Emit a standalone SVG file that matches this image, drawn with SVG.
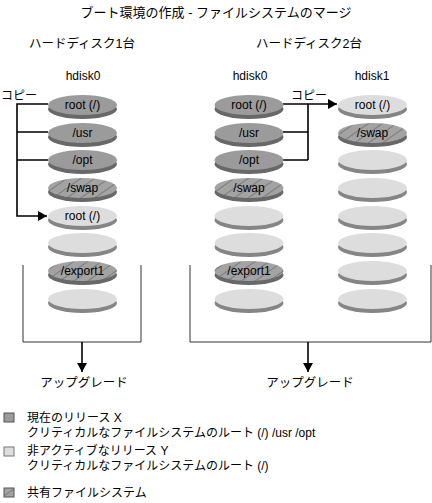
<svg xmlns="http://www.w3.org/2000/svg" width="432" height="503" viewBox="0 0 432 503">
<style>
text{font-family:"Liberation Sans","Noto Sans CJK JP",sans-serif;font-size:12px;fill:#000}
.c{text-anchor:middle}
.side-d{fill:#686868}
.top-d{fill:#9b9b9b}
.side-l{fill:#858585}
.top-l{fill:#dddddd}
.top-h{fill:url(#hatch)}
.conn{fill:none;stroke:#000;stroke-width:1.6}
.box{fill:none;stroke:#333;stroke-width:1}
</style>
<defs>
<pattern id="hatch" patternUnits="userSpaceOnUse" width="8" height="8" patternTransform="rotate(55)">
<rect width="8" height="8" fill="#a3a3a3"/>
<line x1="0" y1="0" x2="0" y2="8" stroke="#5a5a5a" stroke-width="1.1"/>
</pattern>
<marker id="ah" markerWidth="10" markerHeight="10" refX="9" refY="5" orient="auto" markerUnits="userSpaceOnUse">
<path d="M0,0 L9,5 L0,10 Z" fill="#000"/>
</marker>
</defs>

<text class="c" x="216" y="17" style="font-size:13px">ブート環境の作成 - ファイルシステムのマージ</text>
<text class="c" x="82" y="48" style="font-size:12.5px">ハードディスク1台</text>
<text class="c" x="309" y="48" style="font-size:12.5px">ハードディスク2台</text>
<text class="c" x="83" y="80">hdisk0</text>
<text class="c" x="250" y="80">hdisk0</text>
<text class="c" x="372" y="80">hdisk1</text>

<g id="connectors">
<path class="conn" d="M48,104 H17 V216 H47" marker-end="url(#ah)"/>
<path class="conn" d="M48,132 H17 M48,160 H17"/>
<path class="conn" d="M283,104 H337" marker-end="url(#ah)"/>
<path class="conn" d="M283,132 H308 M283,160 H308 M308,104 V160"/>
<path class="box" d="M23,265 V342 H141 V265"/>
<path class="box" d="M190,265 V342 H431 V265"/>
<path class="conn" d="M82,342 V372" marker-end="url(#ah)"/>
<path class="conn" d="M308,342 V372" marker-end="url(#ah)"/>
</g>
<text x="1" y="100">コピー</text>
<text x="291" y="100">コピー</text>
<text class="c" x="84" y="387" style="font-size:12.5px">アップグレード</text>
<text class="c" x="310" y="387" style="font-size:12.5px">アップグレード</text>

<!-- left stack hdisk0 -->
<g id="L1"><ellipse class="side-d" cx="82.5" cy="109" rx="34.5" ry="10"/><ellipse class="top-d" cx="82.5" cy="105" rx="34.5" ry="10"/><text class="c" x="82.5" y="109">root (/)</text></g>
<g id="L2"><ellipse class="side-d" cx="82.5" cy="137" rx="34.5" ry="10"/><ellipse class="top-d" cx="82.5" cy="133" rx="34.5" ry="10"/><text class="c" x="82.5" y="137">/usr</text></g>
<g id="L3"><ellipse class="side-d" cx="82.5" cy="164" rx="34.5" ry="10"/><ellipse class="top-d" cx="82.5" cy="160" rx="34.5" ry="10"/><text class="c" x="82.5" y="164">/opt</text></g>
<g id="L4"><ellipse class="side-d" cx="82.5" cy="192" rx="34.5" ry="10"/><ellipse class="top-h" cx="82.5" cy="188" rx="34.5" ry="10"/><text class="c" x="82.5" y="192">/swap</text></g>
<g id="L5"><ellipse class="side-l" cx="82.5" cy="220" rx="34.5" ry="10"/><ellipse class="top-l" cx="82.5" cy="216" rx="34.5" ry="10"/><text class="c" x="82.5" y="220">root (/)</text></g>
<g id="L6"><ellipse class="side-l" cx="82.5" cy="247" rx="34.5" ry="10"/><ellipse class="top-l" cx="82.5" cy="243" rx="34.5" ry="10"/></g>
<g id="L7"><ellipse class="side-d" cx="82.5" cy="275" rx="34.5" ry="10"/><ellipse class="top-h" cx="82.5" cy="271" rx="34.5" ry="10"/><text class="c" x="82.5" y="275">/export1</text></g>
<g id="L8"><ellipse class="side-l" cx="82.5" cy="303" rx="34.5" ry="10"/><ellipse class="top-l" cx="82.5" cy="299" rx="34.5" ry="10"/></g>

<!-- right stack hdisk0 -->
<g id="R1"><ellipse class="side-d" cx="249" cy="109" rx="34.5" ry="10"/><ellipse class="top-d" cx="249" cy="105" rx="34.5" ry="10"/><text class="c" x="249" y="109">root (/)</text></g>
<g id="R2"><ellipse class="side-d" cx="249" cy="137" rx="34.5" ry="10"/><ellipse class="top-d" cx="249" cy="133" rx="34.5" ry="10"/><text class="c" x="249" y="137">/usr</text></g>
<g id="R3"><ellipse class="side-d" cx="249" cy="164" rx="34.5" ry="10"/><ellipse class="top-d" cx="249" cy="160" rx="34.5" ry="10"/><text class="c" x="249" y="164">/opt</text></g>
<g id="R4"><ellipse class="side-d" cx="249" cy="192" rx="34.5" ry="10"/><ellipse class="top-h" cx="249" cy="188" rx="34.5" ry="10"/><text class="c" x="249" y="192">/swap</text></g>
<g id="R5"><ellipse class="side-l" cx="249" cy="220" rx="34.5" ry="10"/><ellipse class="top-l" cx="249" cy="216" rx="34.5" ry="10"/></g>
<g id="R6"><ellipse class="side-l" cx="249" cy="247" rx="34.5" ry="10"/><ellipse class="top-l" cx="249" cy="243" rx="34.5" ry="10"/></g>
<g id="R7"><ellipse class="side-d" cx="249" cy="275" rx="34.5" ry="10"/><ellipse class="top-h" cx="249" cy="271" rx="34.5" ry="10"/><text class="c" x="249" y="275">/export1</text></g>
<g id="R8"><ellipse class="side-l" cx="249" cy="303" rx="34.5" ry="10"/><ellipse class="top-l" cx="249" cy="299" rx="34.5" ry="10"/></g>

<!-- right stack hdisk1 -->
<g id="S1"><ellipse class="side-l" cx="372.5" cy="109" rx="34.5" ry="10"/><ellipse class="top-l" cx="372.5" cy="105" rx="34.5" ry="10"/><text class="c" x="372.5" y="109">root (/)</text></g>
<g id="S2"><ellipse class="side-d" cx="372.5" cy="137" rx="34.5" ry="10"/><ellipse class="top-h" cx="372.5" cy="133" rx="34.5" ry="10"/><text class="c" x="372.5" y="137">/swap</text></g>
<g id="S3"><ellipse class="side-l" cx="372.5" cy="164" rx="34.5" ry="10"/><ellipse class="top-l" cx="372.5" cy="160" rx="34.5" ry="10"/></g>
<g id="S4"><ellipse class="side-l" cx="372.5" cy="192" rx="34.5" ry="10"/><ellipse class="top-l" cx="372.5" cy="188" rx="34.5" ry="10"/></g>
<g id="S5"><ellipse class="side-l" cx="372.5" cy="220" rx="34.5" ry="10"/><ellipse class="top-l" cx="372.5" cy="216" rx="34.5" ry="10"/></g>
<g id="S6"><ellipse class="side-l" cx="372.5" cy="247" rx="34.5" ry="10"/><ellipse class="top-l" cx="372.5" cy="243" rx="34.5" ry="10"/></g>
<g id="S7"><ellipse class="side-l" cx="372.5" cy="275" rx="34.5" ry="10"/><ellipse class="top-l" cx="372.5" cy="271" rx="34.5" ry="10"/></g>
<g id="S8"><ellipse class="side-l" cx="372.5" cy="303" rx="34.5" ry="10"/><ellipse class="top-l" cx="372.5" cy="299" rx="34.5" ry="10"/></g>

<!-- legend -->
<g id="legend-current"><rect x="4" y="413" width="10" height="9" fill="#9b9b9b" stroke="#555"/><text x="27" y="422">現在のリリース X</text><text x="27" y="437">クリティカルなファイルシステムのルート (/) /usr /opt</text></g>
<g id="legend-inactive"><rect x="4" y="447" width="10" height="9" fill="#dddddd" stroke="#777"/><text x="27" y="455">非アクティブなリリース Y</text><text x="27" y="470">クリティカルなファイルシステムのルート (/)</text></g>
<g id="legend-shared"><rect x="4" y="488" width="10" height="9" fill="url(#hatch)" stroke="#555"/><text x="27" y="497">共有ファイルシステム</text></g>
</svg>
